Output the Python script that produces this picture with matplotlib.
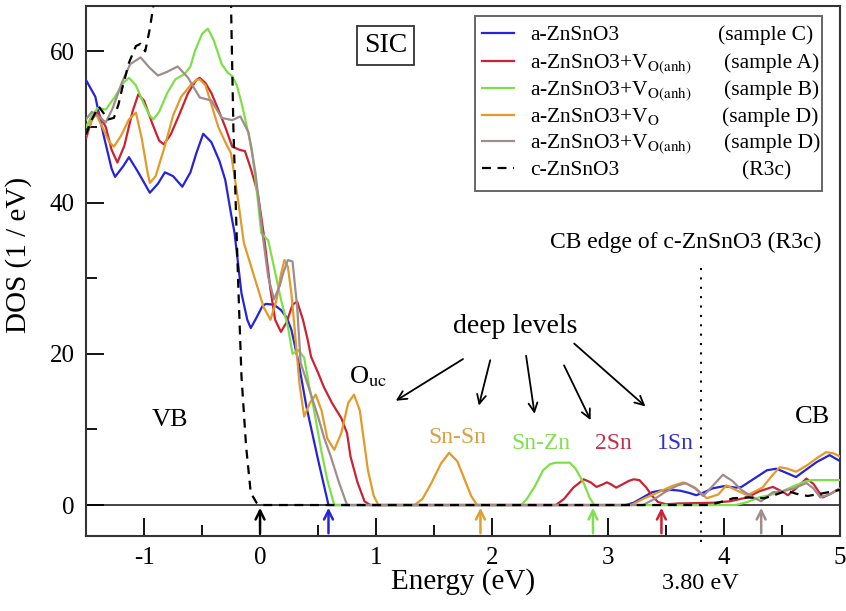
"""DOS of amorphous ZnSnO3 models vs. crystalline R3c reference."""

import matplotlib

matplotlib.use("Agg")
import matplotlib.pyplot as plt  # noqa: E402
from matplotlib.lines import Line2D  # noqa: E402
from matplotlib.patches import Rectangle  # noqa: E402
import matplotlib.transforms as mtransforms  # noqa: E402

plt.rcParams["font.family"] = ["Liberation Serif", "DejaVu Serif"]
plt.rcParams["mathtext.fontset"] = "stix"

# --- curves (energy in eV, DOS in 1/eV) ---
blue_x = [-1.5, -1.42, -1.35, -1.28, -1.25, -1.18, -1.13, -1.05, -0.95, -0.88,
          -0.82, -0.75, -0.67, -0.6, -0.55, -0.49, -0.42, -0.35, -0.3, -0.25,
          -0.22, -0.16, -0.11, -0.08, -0.03, 0.02, 0.05, 0.12, 0.18, 0.23,
          0.27, 0.33, 0.4, 0.5, 0.59,
          3.15, 3.22, 3.3, 3.38, 3.45, 3.55, 3.62, 3.7, 3.76, 3.83, 3.9, 4.0,
          4.1, 4.15, 4.22, 4.3, 4.37, 4.45, 4.53, 4.62, 4.7, 4.8, 4.91, 5.0]
blue_y = [56.2, 54, 49, 44.5, 43.4, 44.8, 46, 44, 41.3, 42.5,
          44, 43.5, 42.1, 44, 46.5, 49.1, 48, 45.5, 43, 38.5,
          36, 28, 24.5, 23.4, 24.8, 26.3, 26.6, 26.5, 25.8, 24.8,
          23.2, 19, 13, 6, 0,
          0, 0.3, 1.0, 1.7, 1.9, 2.0, 1.9, 1.6, 1.3, 1.7, 2.2, 2.5,
          2.3, 2.4, 3.1, 3.9, 4.6, 4.8, 4.3, 3.7, 4.6, 5.7, 6.6, 5.8]

red_x = [-1.5, -1.45, -1.4, -1.33, -1.28, -1.23, -1.17, -1.1, -1.05, -1.0,
         -0.93, -0.87, -0.83, -0.77, -0.7, -0.62, -0.55, -0.52, -0.47, -0.42,
         -0.36, -0.3, -0.24, -0.18, -0.13, -0.08, -0.02, 0.03, 0.09, 0.13,
         0.18, 0.23, 0.28, 0.32, 0.37, 0.41, 0.44, 0.5, 0.55, 0.62, 0.7,
         0.75, 0.78, 0.84, 0.9, 0.95,
         2.55, 2.62, 2.7, 2.79, 2.85, 2.9, 2.95, 2.99, 3.03, 3.07, 3.12,
         3.18, 3.22, 3.27, 3.33, 3.38, 3.43, 3.5, 3.6, 3.9, 4.05, 4.2, 4.3,
         4.42, 4.5, 4.55, 4.62, 4.71, 4.77, 4.85, 4.92, 5.0]
red_y = [48.5, 51, 52, 50, 47, 45.3, 47.5, 52, 54.3, 53.5,
         50.5, 48.2, 47.7, 49, 51.5, 54.5, 56.2, 56.5, 55.8, 54.5,
         52.3, 50, 47.4, 47, 46.8, 44.5, 41.3, 36, 28.5, 24.5,
         22.9, 24.2, 26.5, 26.9, 24.5, 21.9, 19.6, 17.5, 15.6, 13.5, 11.5,
         9.5, 6.4, 3, 0.5, 0,
         0, 0.8, 2.3, 3.4, 3.0, 2.4, 2.7, 3.0, 2.7, 2.3, 2.7,
         3.2, 3.4, 3.3, 2.3, 1.2, 0.4, 0.1, 0.2, 0.3, 0.5, 1.0, 1.8,
         2.4, 1.8, 1.3, 2.2, 3.5, 2.8, 1.0, 1.5, 2.2]

green_x = [-1.5, -1.45, -1.4, -1.33, -1.25, -1.18, -1.13, -1.07, -1.0, -0.95,
           -0.92, -0.87, -0.8, -0.73, -0.65, -0.6, -0.56, -0.5, -0.45, -0.4,
           -0.33, -0.28, -0.24, -0.2, -0.16, -0.12, -0.07, -0.02, 0.01, 0.07,
           0.12, 0.18, 0.24, 0.28, 0.33, 0.38, 0.42, 0.47, 0.53, 0.58, 0.64,
           2.25, 2.3, 2.37, 2.44, 2.5, 2.55, 2.67, 2.72, 2.79, 2.84, 2.88,
           4.1, 4.2, 4.3, 4.39, 4.5, 4.6, 4.7, 4.76, 5.0]
green_y = [50, 51.5, 52.5, 52.3, 54, 55.8, 56.5, 55.5, 53, 51.5,
           51, 52, 54.5, 56.3, 57, 58, 60.1, 62.3, 63, 61.5,
           58.3, 57.2, 56.7, 55.5, 53.2, 50.5, 47, 40.4, 36, 35,
           31.5, 27.2, 23.6, 20, 20.5, 19.5, 16, 12.2, 7, 3.3, 0,
           0, 0.8, 2.5, 4.6, 5.4, 5.6, 5.6, 4.8, 2.9, 1.0, 0,
           0, 0.4, 1.0, 1.3, 1.8, 2.5, 3.1, 3.3, 3.3]

orange_x = [-1.5, -1.46, -1.42, -1.36, -1.3, -1.26, -1.2, -1.13, -1.07, -1.02,
            -0.97, -0.95, -0.9, -0.82, -0.75, -0.68, -0.6, -0.55, -0.52, -0.47,
            -0.42, -0.36, -0.3, -0.25, -0.19, -0.14, -0.05, 0.03, 0.09, 0.14,
            0.18, 0.21, 0.24, 0.27, 0.3, 0.34, 0.38, 0.43, 0.48, 0.53, 0.58,
            0.64, 0.7, 0.76, 0.81, 0.86, 0.93, 0.98, 1.02,
            1.33, 1.4, 1.48, 1.56, 1.63, 1.7, 1.76, 1.82, 1.87,
            3.2, 3.3, 3.42, 3.55, 3.65, 3.75, 3.85, 3.95, 4.02, 4.1, 4.2,
            4.33, 4.42, 4.48, 4.55, 4.62, 4.72, 4.8, 4.88, 4.95, 5.0]
orange_y = [49, 50.5, 51.9, 50, 48, 47.4, 48.8, 51, 51.9, 48.5,
            44, 42.6, 43.5, 47.5, 51.5, 54, 55.5, 56.2, 56.3, 55.5,
            53, 50, 48, 46.5, 40.4, 34.7, 30.2, 26.2, 24.5, 27,
            30.5, 32.4, 31.5, 28, 23, 16, 11.7, 13.5, 14.6, 12.5, 8.8,
            7.3, 9.5, 13.5, 14.6, 12.5, 4.6, 1.2, 0,
            0, 0.8, 3.0, 5.5, 6.9, 5.8, 3.5, 1.2, 0,
            0, 0.8, 1.6, 2.5, 3.0, 2.3, 0.9, 1.4, 2.6, 2.0, 1.3,
            2.3, 4.0, 5.0, 4.8, 4.4, 5.3, 6.2, 7.0, 6.8, 6.4]

grey_x = [-1.5, -1.45, -1.4, -1.33, -1.27, -1.19, -1.12, -1.03, -0.95, -0.88,
          -0.8, -0.71, -0.62, -0.52, -0.42, -0.33, -0.24, -0.17, -0.1, -0.04,
          0.02, 0.07, 0.12, 0.17, 0.2, 0.24, 0.28, 0.32, 0.35, 0.42, 0.5,
          0.55, 0.61, 0.68, 0.75,
          3.3, 3.4, 3.5, 3.6, 3.67, 3.75, 3.82, 3.9, 3.99, 4.07, 4.15, 4.25,
          4.32, 4.42, 4.5, 4.6, 4.71, 4.77, 4.83, 4.92, 5.0]
grey_y = [51, 52, 51.5, 50.6, 52.5, 55.9, 58.3, 59.2, 57.8, 56.8,
          57.3, 58.0, 56.5, 53.9, 53.5, 51.2, 50.9, 51.4, 49.3, 44,
          36, 30.2, 27.2, 29, 30.7, 32.4, 32.2, 26.2, 18.8, 15.5, 11.7,
          9.0, 6.4, 3, 0,
          0, 0.8, 1.8, 2.6, 2.9, 2.2, 1.2, 2.5, 4.0, 3.2, 2.0, 1.0,
          0.5, 1.7, 1.8, 2.2, 2.9, 2.2, 1.0, 1.5, 2.2]

# crystalline reference runs off the top of the frame between -0.9 and -0.25 eV
cryst_x = [-1.5, -1.45, -1.39, -1.31, -1.26, -1.22, -1.19, -1.13, -1.07, -1.03,
           -0.99, -0.95, -0.92, -0.88, -0.3, -0.26, -0.25, -0.23, -0.21, -0.19,
           -0.16, -0.12, -0.08, -0.03, 0.0,
           3.85, 3.95, 4.08, 4.2, 4.35, 4.45, 4.54, 4.62, 4.72, 4.8, 4.9, 5.0]
cryst_y = [49, 51, 52.7, 51, 51.2, 53, 55, 58.5, 60.7, 61,
           60, 63, 66, 72, 72, 70, 66, 50, 40, 30,
           17, 7.7, 1.6, 0.3, 0,
           0, 0.3, 0.9, 1.0, 0.9, 1.4, 1.9, 1.5, 1.2, 1.4, 1.7, 2.0]

# gap edges marked with arrows on the baseline
edge_x = [0.0, 0.59, 1.90, 2.87, 3.46, 4.32]
edge_colors = ["black", "#2424d8", "#e0a030", "#80e050", "#cc2233", "#a08c8c"]

CB_EDGE = 3.80

series = [
    (blue_x, blue_y, "#2424d8", "-", "a-ZnSnO3", "(sample C)"),
    (red_x, red_y, "#cc2233", "-", r"a-ZnSnO3+V$_{\mathrm{O(anh)}}$", "(sample A)"),
    (green_x, green_y, "#7ee048", "-", r"a-ZnSnO3+V$_{\mathrm{O(anh)}}$", "(sample B)"),
    (orange_x, orange_y, "#e49a2a", "-", r"a-ZnSnO3+V$_{\mathrm{O}}$", "(sample D)"),
    (grey_x, grey_y, "#a08c8c", "-", r"a-ZnSnO3+V$_{\mathrm{O(anh)}}$", "(sample D)"),
    (cryst_x, cryst_y, "black", (0, (4, 3)), "c-ZnSnO3", "(R3c)"),
]

W, H = 846, 611


def px(x, y):
    """pixel position (from top-left) -> figure fraction"""
    return x / W, 1 - y / H


fig = plt.figure(figsize=(W / 100, H / 100), dpi=100)
ax = fig.add_axes([0.1017, 0.1227, 0.8913, 0.8675])

ax.axhline(0, color="#444444", lw=1.4, zorder=1)
for xs, ys, c, ls, _, _ in series:
    ax.plot(xs, ys, color=c, ls=ls, lw=1.6, zorder=3)

ax.set_xlim(-1.5, 5)
ax.set_ylim(-4.1, 66)

# CB edge of the crystal
ax.plot([CB_EDGE, CB_EDGE], [31.4, -5.6], ls=(0, (1, 3.5)), color="black",
        lw=1.5, clip_on=False, zorder=2)
ax.text(3.67, 34.7, "CB edge of c-ZnSnO3 (R3c)", ha="center", va="center",
        fontsize=17)
trans = mtransforms.blended_transform_factory(ax.transData, ax.transAxes)
ax.text(CB_EDGE, -0.089, f"{CB_EDGE:.2f} eV", transform=trans, ha="center",
        va="center", fontsize=17.5)

# arrows from the bottom spine up to the gap edges
for ex, ec in zip(edge_x, edge_colors):
    ax.annotate("", xy=(ex, 0), xytext=(ex, -4.1),
                arrowprops=dict(arrowstyle="->", color=ec, lw=1.8,
                                mutation_scale=16), zorder=4)

# annotations
ax.text(-0.78, 11.3, "VB", ha="center", va="center", fontsize=19)
ax.text(4.76, 11.7, "CB", ha="center", va="center", fontsize=19)
ax.text(0.93, 17.0, r"O$_{\mathrm{uc}}$", ha="center", va="center", fontsize=19)
ax.text(1.70, 8.9, "Sn-Sn", ha="center", va="center", fontsize=17,
        color="#d9a040")
ax.text(2.42, 8.2, "Sn-Zn", ha="center", va="center", fontsize=17,
        color="#80e050")
ax.text(3.05, 8.2, "2Sn", ha="center", va="center", fontsize=17,
        color="#c0304a")
ax.text(3.58, 8.2, "1Sn", ha="center", va="center", fontsize=17,
        color="#3030d0")

ax.text(2.2, 23.6, "deep levels", ha="center", va="center", fontsize=20)
deep_from = [(1.77, 19.5), (1.99, 19.5), (2.29, 20.1), (2.61, 18.8), (2.69, 21.6)]
deep_to = [(1.15, 13.6), (1.88, 12.8), (2.37, 11.7), (2.86, 10.9), (3.34, 12.8)]
for p0, p1 in zip(deep_from, deep_to):
    ax.annotate("", xy=p1, xytext=p0,
                arrowprops=dict(arrowstyle="->", color="black", lw=1.3,
                                mutation_scale=16))

ax.text(1.08, 60.8, "SIC", ha="center", va="center", fontsize=20,
        bbox=dict(boxstyle="square,pad=0.25", fc="white", ec="#333333",
                  lw=1.3))

# legend drawn by hand: two text columns on a fixed row pitch
x0, y0 = px(475, 191)
x1, y1 = px(822, 16)
fig.add_artist(Rectangle((x0, y0), x1 - x0, y1 - y0, transform=fig.transFigure,
                         fc="white", ec="#666666", lw=1.4, zorder=5))
row_base = [40, 68, 95, 122, 148, 175]
col2_x = [718, 724, 724, 722, 724, 742]
for (_, _, c, ls, lab, samp), yb, cx in zip(series, row_base, col2_x):
    ya = px(0, yb - 7)[1]
    fig.add_artist(Line2D([px(482, 0)[0], px(514, 0)[0]], [ya, ya], color=c,
                          ls=ls, lw=1.6, transform=fig.transFigure, zorder=6))
    fig.text(*px(530, yb), lab, fontsize=15.5, va="baseline", zorder=6)
    fig.text(*px(cx, yb), samp, fontsize=15.5, va="baseline", zorder=6)

# axes and ticks
ax.set_xticks([-1, 0, 1, 2, 3, 4, 5])
ax.set_xticklabels(["-1", "0", "1", "2", "3", "4", "5"])
ax.set_xticks([-1.5, -0.5, 0.5, 1.5, 2.5, 3.5, 4.5], minor=True)
ax.set_yticks([0, 20, 40, 60])
ax.set_yticks([10, 30, 50], minor=True)
ax.tick_params(which="both", direction="in", top=False, right=False,
               labelsize=18, width=1.3)
ax.tick_params(which="major", length=13, pad=8)
ax.tick_params(which="minor", length=8)
for sp in ax.spines.values():
    sp.set_linewidth(1.5)
    sp.set_color("#333333")

ax.set_xlabel("Energy (eV)", fontsize=21)
ax.set_ylabel("DOS (1 / eV)", fontsize=21)
ax.xaxis.set_label_coords(0.5, -0.06)
ax.yaxis.set_label_coords(-0.072, 0.53)

fig.savefig("out.png", dpi=100)
